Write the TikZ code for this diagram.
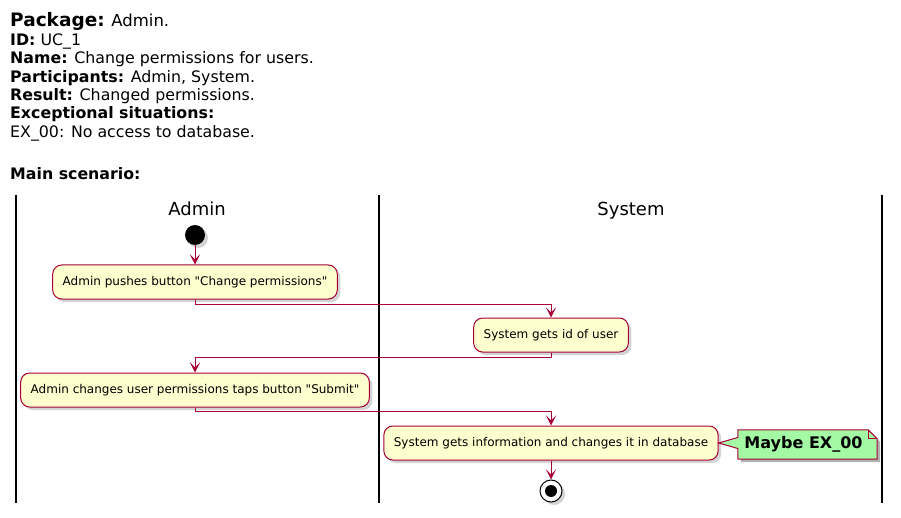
\documentclass[tikz,border=0pt]{standalone}
\usepackage{fontspec}
\setmainfont{DejaVu Sans}
\usetikzlibrary{arrows.meta,shadows,calc}
\definecolor{umlred}{HTML}{A80036}
\definecolor{umlbox}{HTML}{FEFECE}
\definecolor{umlnote}{HTML}{A4F9A4}

\tikzset{
	act/.style={draw=umlred, fill=umlbox, line width=1pt, rounded corners=9pt,
		minimum height=34pt, inner xsep=10pt, font=\fontsize{12}{14}\selectfont,
		drop shadow={shadow xshift=3pt, shadow yshift=-3pt, opacity=0.35}},
	flow/.style={draw=umlred, line width=1pt, -{Stealth[length=10pt,width=10pt,inset=5pt]}},
	info/.style={anchor=base west, inner sep=0pt, font=\fontsize{15.8}{18}\selectfont},
	lane/.style={line width=1.5pt},
	lanetitle/.style={anchor=base, inner sep=0pt, font=\fontsize{18}{20}\selectfont}
}

\begin{document}
\begin{tikzpicture}[x=1pt, y=-1pt]
	\useasboundingbox (0,0) rectangle (901,518);
	
	% header text
	\node[info] (pkg) at (10,27) {{\fontsize{18.5}{20}\selectfont\bfseries Package:} {\fontsize{16.5}{18}\selectfont Admin.}};
	\node[info] (id) at (10,46) {\textbf{ID:} UC\_1};
	\node[info] (nm) at (10,64) {\textbf{Name:} Change permissions for users.};
	\node[info] (prt) at (10,83) {\textbf{Participants:} Admin, System.};
	\node[info] (res) at (10,101) {\textbf{Result:} Changed permissions.};
	\node[info] (exc) at (10,119) {\textbf{Exceptional situations:}};
	\node[info] (ex0) at (10,138) {EX\_00: No access to database.};
	\node[info] (main) at (10,180) {\textbf{Main scenario:}};
	
	% swimlanes
	\draw[lane] (16,195) -- (16,503);
	\draw[lane] (379,195) -- (379,503);
	\draw[lane] (882,195) -- (882,503);
	\node[lanetitle] (admin) at (197,216) {Admin};
	\node[lanetitle] (system) at (631,216) {System};
	
	% activities
	\node[circle, fill=black, minimum size=20pt, inner sep=0pt,
		drop shadow={shadow xshift=3pt, shadow yshift=-3pt, opacity=0.35}] (start) at (195,235) {};
	\node[act] (push) at (195,282) {Admin pushes button \textquotedbl Change permissions\textquotedbl};
	\node[act] (getid) at (551,335) {System gets id of user};
	\node[act] (change) at (195,390) {Admin changes user permissions taps button \textquotedbl Submit\textquotedbl};
	\node[act] (save) at (551,443) {System gets information and changes it in database};
	\node[circle, draw=black, fill=white, line width=1pt, minimum size=22pt, inner sep=0pt,
		drop shadow={shadow xshift=3pt, shadow yshift=-3pt, opacity=0.35}] (stop) at (551,491) {};
	\fill (stop) circle[radius=6pt];
	
	% note
	\node[inner sep=0pt, minimum width=139pt, minimum height=29pt] (note) at (807.5,444.5) {};
	\fill[black, opacity=0.3] ($(note.north west)+(3,3)$) -- ($(note.north east)+(-6,3)$)
		-- ($(note.north east)+(3,12)$) -- ($(note.south east)+(3,3)$) -- ($(note.south west)+(3,3)$) -- cycle;
	\draw[umlred, fill=umlnote, line width=1pt] (note.north west) -- ($(note.north east)+(-9,0)$)
		-- ($(note.north east)+(0,9)$) -- (note.south east) -- (note.south west)
		-- ($(note.west)+(0,4)$) -- (save.east) -- ($(note.west)+(0,-7)$) -- cycle;
	\draw[umlred, line width=1pt] ($(note.north east)+(-9,0)$) -- ($(note.north east)+(-9,9)$) -- ($(note.north east)+(0,9)$);
	\node[inner sep=0pt, font=\fontsize{16}{18}\selectfont\bfseries] (notetext) at ($(note)+(-4,0)$) {Maybe EX\_00};
	
	% connectors
	\draw[flow] (start) -- (push);
	\draw[flow] (push.south) -- ++(0,5) -| (getid.north);
	\draw[flow] (getid.south) -- ++(0,5) -| (change.north);
	\draw[flow] (change.south) -- ++(0,4) -| (save.north);
	\draw[flow] (save) -- (stop);
	
\end{tikzpicture}
\end{document}
